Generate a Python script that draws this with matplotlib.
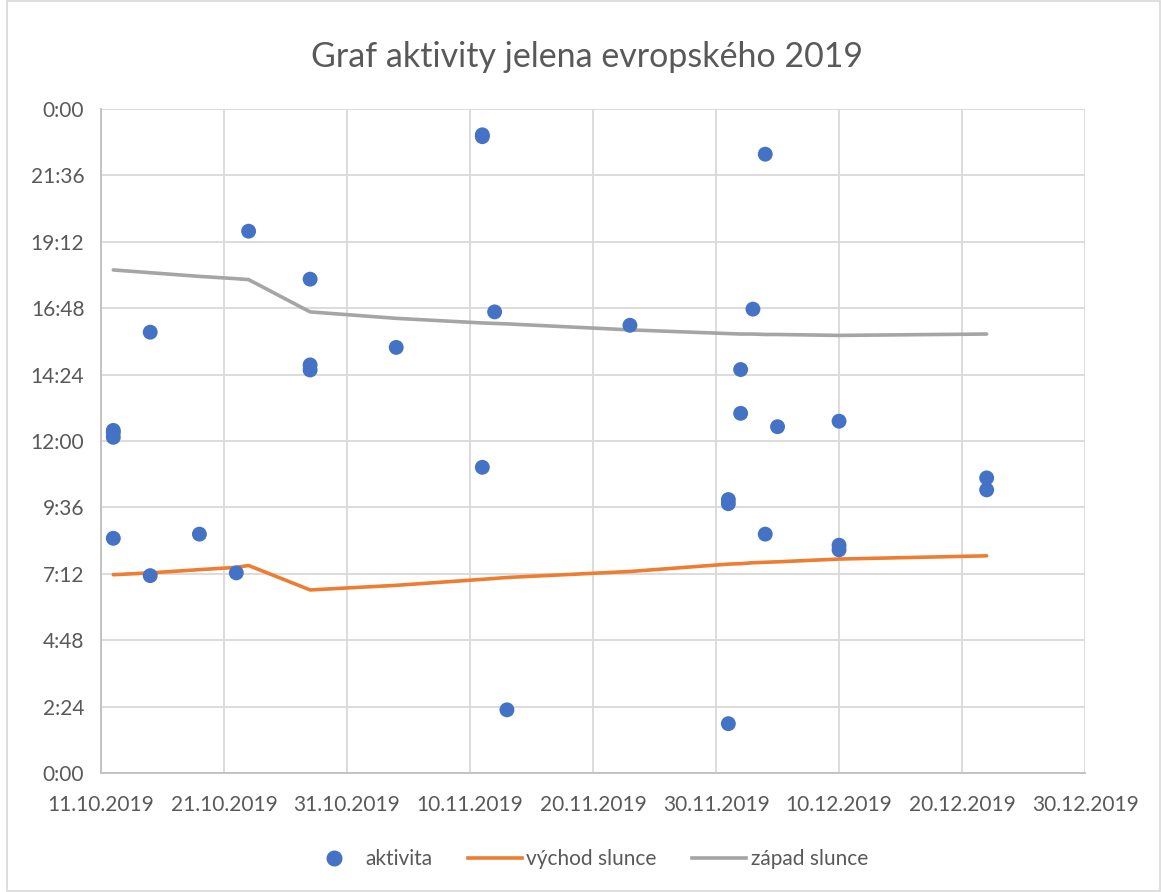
import matplotlib.pyplot as plt
from matplotlib.lines import Line2D
from matplotlib.patches import Rectangle
from datetime import datetime

# --- data ---
akt_datum = ["12.10.2019", "12.10.2019", "12.10.2019", "12.10.2019",
             "15.10.2019", "15.10.2019", "19.10.2019", "22.10.2019", "23.10.2019",
             "28.10.2019", "28.10.2019", "28.10.2019", "4.11.2019",
             "11.11.2019", "11.11.2019", "11.11.2019", "12.11.2019", "13.11.2019",
             "23.11.2019", "1.12.2019", "1.12.2019", "1.12.2019",
             "2.12.2019", "2.12.2019", "3.12.2019", "4.12.2019", "4.12.2019",
             "5.12.2019", "10.12.2019", "10.12.2019", "10.12.2019",
             "22.12.2019", "22.12.2019"]
akt_cas = ["12:23", "12:18", "12:08", "8:29",
           "15:56", "7:08", "8:38", "7:14", "19:35",
           "17:51", "14:45", "14:34", "15:23",
           "23:04", "23:00", "11:03", "16:40", "2:17",
           "16:11", "9:53", "9:44", "1:47",
           "14:35", "13:00", "16:46", "22:22", "8:38",
           "12:31", "12:43", "8:14", "8:04",
           "10:40", "10:14"]

slunce_datum = ["12.10.2019", "15.10.2019", "19.10.2019", "22.10.2019", "23.10.2019",
                "28.10.2019", "4.11.2019", "11.11.2019", "12.11.2019", "13.11.2019",
                "23.11.2019", "1.12.2019", "2.12.2019", "3.12.2019", "4.12.2019",
                "5.12.2019", "10.12.2019", "22.12.2019"]
vychod = ["7:10", "7:14", "7:21", "7:26", "7:30",
          "6:37", "6:47", "7:00", "7:02", "7:04",
          "7:17", "7:33", "7:34", "7:36", "7:37",
          "7:38", "7:44", "7:51"]
zapad = ["18:11", "18:05", "17:57", "17:52", "17:50",
         "16:40", "16:26", "16:16", "16:15", "16:14",
         "16:01", "15:53", "15:52", "15:52", "15:51",
         "15:51", "15:49", "15:52"]

x_ticks = ["11.10.2019", "21.10.2019", "31.10.2019", "10.11.2019", "20.11.2019",
           "30.11.2019", "10.12.2019", "20.12.2019", "30.12.2019"]
y_labels = ["0:00", "2:24", "4:48", "7:12", "9:36", "12:00",
            "14:24", "16:48", "19:12", "21:36", "0:00"]


def d(s):
    return datetime.strptime(s, "%d.%m.%Y")


def h(s):
    hh, mm = s.split(":")
    return int(hh) + int(mm) / 60


plt.rcParams['font.family'] = ['Lato', 'DejaVu Sans']
TXT = "#595959"
GRID = "#d9d9d9"

fig = plt.figure(figsize=(11.61, 8.92), dpi=100)
ax = fig.add_axes([0.087, 0.1334, 0.8476, 0.7444])

ax.plot([d(s) for s in slunce_datum], [h(s) for s in vychod],
        color="#ED7D31", lw=2.6, solid_capstyle='round', zorder=2)
ax.plot([d(s) for s in slunce_datum], [h(s) for s in zapad],
        color="#A5A5A5", lw=2.6, solid_capstyle='round', zorder=2)
ax.scatter([d(s) for s in akt_datum], [h(s) for s in akt_cas],
           s=115, color="#4472C4", edgecolors='none', zorder=3)

ax.set_xlim(d(x_ticks[0]), d(x_ticks[-1]))
ax.set_ylim(0, 24)
ax.set_xticks([d(s) for s in x_ticks])
ax.set_xticklabels(x_ticks)
ax.set_yticks([i * 2.4 for i in range(11)])
ax.set_yticklabels(y_labels)

ax.grid(True, color=GRID, lw=1.3)
ax.set_axisbelow(True)
for sp in ["top", "right"]:
    ax.spines[sp].set_visible(False)
for sp in ["left", "bottom"]:
    ax.spines[sp].set_color("#bfbfbf")
    ax.spines[sp].set_linewidth(1.3)
ax.tick_params(length=0, labelsize=15, colors=TXT)
ax.tick_params(axis='x', pad=16)
ax.tick_params(axis='y', pad=12)

fig.text(0.506, 0.936, "Graf aktivity jelena evropského 2019",
         ha='center', va='center', fontsize=24.5, color=TXT)

handles = [
    Line2D([], [], marker='o', ls='none', color="#4472C4", markersize=10.5),
    Line2D([], [], color="#ED7D31", lw=2.6),
    Line2D([], [], color="#A5A5A5", lw=2.6),
]
fig.legend(handles, ["aktivita", "východ slunce", "západ slunce"],
           loc='center', bbox_to_anchor=(0.506, 0.037), ncol=3, frameon=False,
           fontsize=15, labelcolor=TXT, handlelength=2.6, columnspacing=1.7,
           handletextpad=0.2)

fig.patches.append(Rectangle((0.006, 0.001), 0.993, 0.998, transform=fig.transFigure,
                             fill=False, edgecolor=GRID, lw=1.2))

fig.savefig("out.png", dpi=100)
